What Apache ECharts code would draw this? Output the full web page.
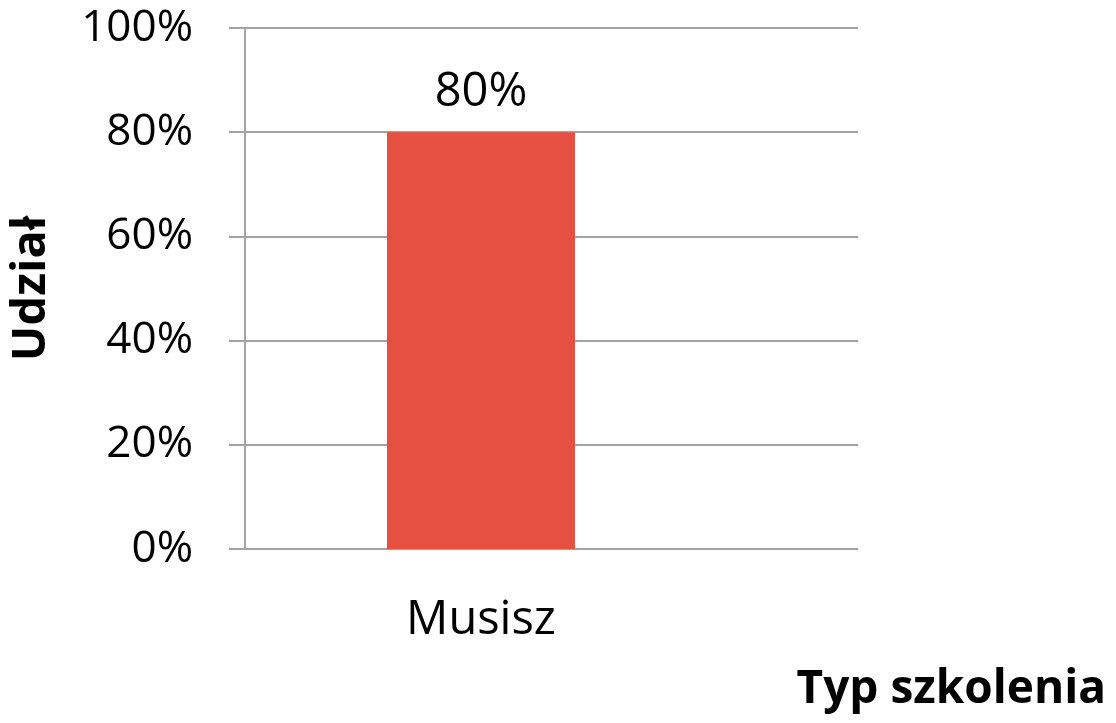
<!DOCTYPE html>
<html>
<head>
<meta charset="utf-8">
<script src="https://cdn.jsdelivr.net/npm/echarts@6/dist/echarts.min.js"></script>
<style>
  html, body { margin: 0; padding: 0; background: #fff; }
  #chart { width: 1116px; height: 723px; }
</style>
</head>
<body>
<div id="chart"></div>
<script>
const categories = ['Musisz']
const shares = [80]
const yTicks = [0, 20, 40, 60, 80, 100]

const FONT = 'Open Sans'
const lineColor = '#a3a3a3'

const myChart = echarts.init(document.getElementById('chart'))
myChart.setOption({
  animation: false,
  textStyle: { fontFamily: FONT },
  grid: [
    // full-width grid that carries the y axis and the horizontal lines
    { left: 245, right: 258, top: 28, bottom: 174 },
    // narrower grid for the bar so the category sits where the original has it
    { left: 245, width: 472, top: 28, bottom: 174 }
  ],
  xAxis: [
    {
      gridIndex: 0,
      type: 'category',
      data: [''],
      axisLine: { show: false },
      axisTick: { show: false },
      axisLabel: { show: false }
    },
    {
      gridIndex: 1,
      type: 'category',
      data: categories,
      axisLine: { show: false },
      axisTick: { show: false },
      axisLabel: { color: '#000', fontSize: 47, margin: 48, fontFamily: FONT }
    }
  ],
  yAxis: [
    {
      gridIndex: 0,
      type: 'value',
      min: yTicks[0],
      max: yTicks[yTicks.length - 1],
      interval: 20,
      name: 'Udział',
      nameLocation: 'middle',
      nameGap: 190,
      nameTextStyle: { color: '#000', fontSize: 47, fontWeight: 'bold', fontFamily: FONT },
      axisLine: { show: true, lineStyle: { color: lineColor, width: 2 } },
      axisTick: { show: true, length: 16, lineStyle: { color: lineColor, width: 2 } },
      splitLine: { show: true, lineStyle: { color: lineColor, width: 2 } },
      axisLabel: {
        color: '#000',
        fontSize: 44,
        margin: 52,
        fontFamily: FONT,
        formatter: '{value}%'
      }
    },
    {
      gridIndex: 1,
      type: 'value',
      min: yTicks[0],
      max: yTicks[yTicks.length - 1],
      interval: 20,
      show: false,
      splitLine: { show: false }
    }
  ],
  graphic: [
    {
      type: 'text',
      right: 10,
      top: 667,
      style: {
        text: 'Typ szkolenia',
        font: 'bold 46px "Open Sans"',
        fill: '#000'
      }
    }
  ],
  series: [
    {
      type: 'bar',
      xAxisIndex: 1,
      yAxisIndex: 1,
      barWidth: 188,
      z: 1,
      itemStyle: { color: '#e55041' },
      label: {
        show: true,
        position: 'top',
        distance: 16,
        color: '#000',
        fontSize: 47,
        fontFamily: FONT,
        formatter: '{c}%'
      },
      data: shares
    }
  ]
})
</script>
</body>
</html>
